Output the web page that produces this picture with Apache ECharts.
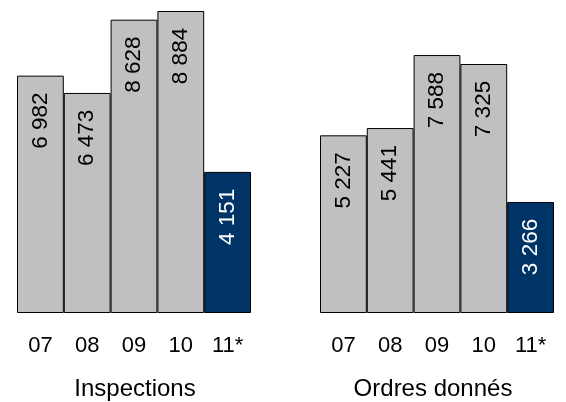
<!DOCTYPE html>
<html>
<head>
<meta charset="utf-8">
<script src="https://cdn.jsdelivr.net/npm/echarts@6/dist/echarts.min.js"></script>
<style>
html,body{margin:0;padding:0;background:#fff;}
#chart{width:566px;height:402px;}
</style>
</head>
<body>
<div id="chart"></div>
<script>
const categories = ['07', '08', '09', '10', '11*'];
const inspections = [6982, 6473, 8628, 8884, 4151];
const ordres = [5227, 5441, 7588, 7325, 3266];
const panelTitles = ['Inspections', 'Ordres donnés'];

const GRAY = '#c0c0c0';
const BLUE = '#003366';
const FONT = '"Liberation Sans", Arial, sans-serif';

function fmt(v) {
  return String(v).replace(/\B(?=(\d{3})+(?!\d))/g, ' ');
}

const chart = echarts.init(document.getElementById('chart'), null, {renderer: 'canvas'});

function xAxis(gi) {
  return {
    type: 'category', gridIndex: gi, data: categories,
    axisLine: {show: false}, axisTick: {show: false},
    axisLabel: {color: '#000', fontFamily: FONT, fontSize: 22, margin: 22, interval: 0}
  };
}
function yAxis(gi) {
  return {
    type: 'value', gridIndex: gi, min: 0, max: 8884,
    show: false, splitLine: {show: false}
  };
}
function series(gi, data) {
  return {
    type: 'bar', xAxisIndex: gi, yAxisIndex: gi,
    data: data.map((v, i) => i === data.length - 1 ? {value: v, label: {color: '#fff'}} : v),
    barCategoryGap: 0, barWidth: '100%',
    itemStyle: {
      color: p => p.dataIndex === data.length - 1 ? BLUE : GRAY,
      borderColor: '#000', borderWidth: 1
    },
    label: {
      show: true, position: ['50%', 45], rotate: 90,
      align: 'center', verticalAlign: 'middle',
      fontFamily: FONT, fontSize: 22.5,
      color: '#000',
      formatter: p => fmt(p.value)
    },
    silent: true, animation: false
  };
}

chart.setOption({
  animation: false,
  backgroundColor: '#fff',
  grid: [
    {left: 17, width: 234, top: 11, bottom: 89},
    {left: 320, width: 234, top: 11, bottom: 89}
  ],
  title: [
    {text: panelTitles[0], left: 130, top: 372, textAlign: 'center',
     textStyle: {fontFamily: FONT, fontSize: 24, fontWeight: 'normal', color: '#000'}},
    {text: panelTitles[1], left: 428, top: 372, textAlign: 'center',
     textStyle: {fontFamily: FONT, fontSize: 24, fontWeight: 'normal', color: '#000'}}
  ],
  xAxis: [xAxis(0), xAxis(1)],
  yAxis: [yAxis(0), yAxis(1)],
  series: [series(0, inspections), series(1, ordres)]
});
</script>
</body>
</html>
